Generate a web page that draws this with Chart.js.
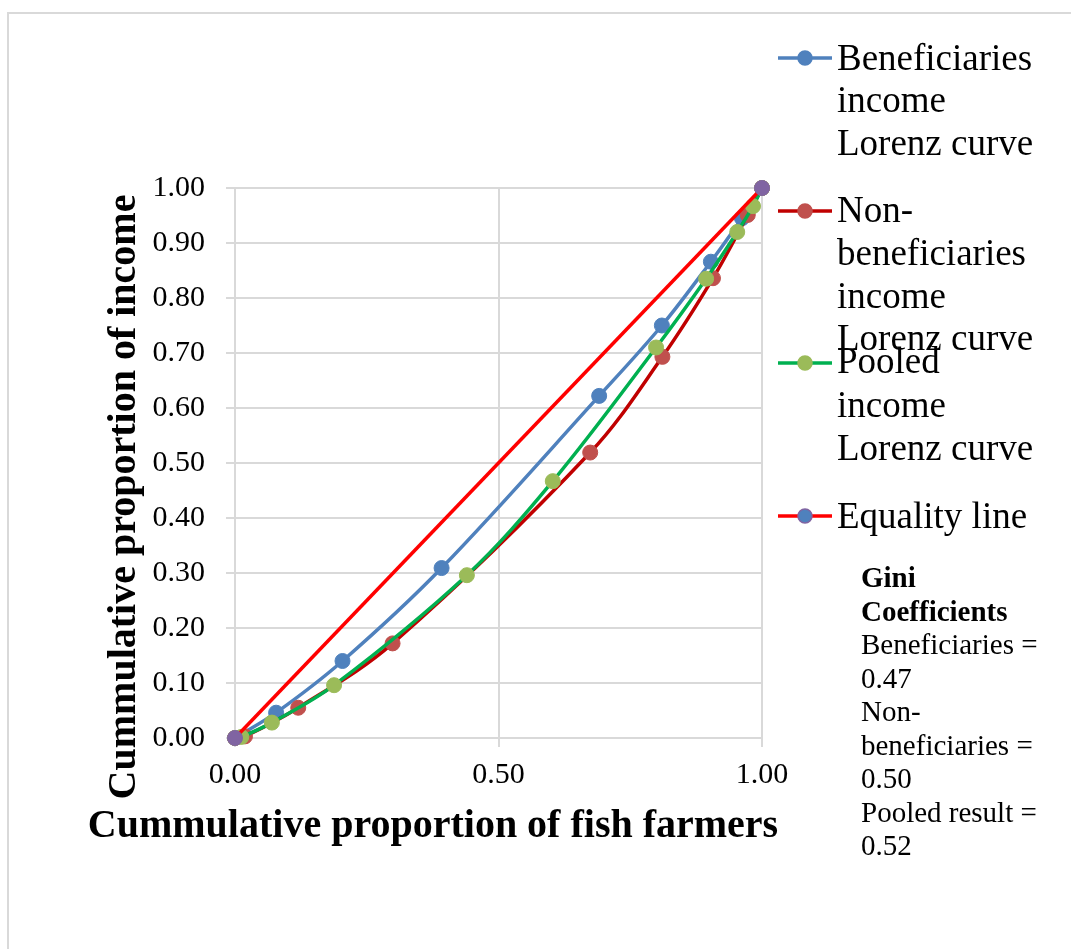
<!DOCTYPE html>
<html>
<head>
<meta charset="utf-8">
<script src="https://cdn.jsdelivr.net/npm/chart.js@4/dist/chart.umd.min.js"></script>
<style>
  html, body { margin: 0; padding: 0; background: #fff; }
  #wrap { position: relative; width: 1071px; height: 949px; overflow: hidden; }
  #frame { position: absolute; left: 7px; top: 12px; width: 1100px; height: 1000px;
           border-left: 2px solid #D9D9D9; border-top: 2px solid #D9D9D9; box-sizing: border-box; }
  canvas { position: absolute; left: 0; top: 0; }
</style>
</head>
<body>
<div id="wrap">
  <div id="frame"></div>
  <canvas id="c" width="1071" height="949"></canvas>
</div>
<script>
// ---- Data ----
const benX  = [0, 0.078, 0.204, 0.392, 0.691, 0.810, 0.903, 0.962, 1.000];
const benY  = [0, 0.046, 0.140, 0.309, 0.622, 0.750, 0.866, 0.945, 1.000];

const nonX  = [0, 0.019, 0.120, 0.299, 0.674, 0.811, 0.907, 0.973, 1.000];
const nonY  = [0, 0.003, 0.055, 0.172, 0.519, 0.693, 0.836, 0.951, 1.000];

const poolX = [0, 0.012, 0.070, 0.188, 0.440, 0.603, 0.799, 0.894, 0.953, 0.983, 1.000];
const poolY = [0, 0.002, 0.028, 0.096, 0.296, 0.467, 0.710, 0.835, 0.920, 0.967, 1.000];

const eqX   = [0, 1];
const eqY   = [0, 1];

const seriesNames = [
  ["Beneficiaries", "income", "Lorenz curve"],
  ["Non-", "beneficiaries", "income", "Lorenz curve"],
  ["Pooled", "income", "Lorenz curve"],
  ["Equality line"]
];
const xTitle = "Cummulative proportion of fish farmers";
const yTitle = "Cummulative proportion of income";
const giniLines = [
  { t: "Gini", bold: true },
  { t: "Coefficients", bold: true },
  { t: "Beneficiaries =", bold: false },
  { t: "0.47", bold: false },
  { t: "Non-", bold: false },
  { t: "beneficiaries =", bold: false },
  { t: "0.50", bold: false },
  { t: "Pooled result =", bold: false },
  { t: "0.52", bold: false }
];

function pts(xs, ys) { return xs.map((x, i) => ({ x: x, y: ys[i] })); }

const FONT = "'Liberation Serif', 'Times New Roman', serif";

const lineCols   = ["#4F81BD", "#C00000", "#00B050", "#FF0000"];
const markerCols = ["#4F81BD", "#C0504D", "#9BBB59", "#8064A2"];

function ds(label, xs, ys, i, order) {
  return {
    label: label,
    data: pts(xs, ys),
    borderColor: lineCols[i],
    backgroundColor: markerCols[i],
    pointBackgroundColor: markerCols[i],
    pointBorderColor: markerCols[i],
    pointBorderWidth: 1,
    pointRadius: 7.5,
    borderWidth: 3.5,
    tension: 0.35,
    showLine: true,
    clip: false,
    order: order
  };
}

const overlay = {
  id: 'overlay',
  afterDraw(chart) {
    const ctx = chart.ctx;
    ctx.save();
    ctx.fillStyle = '#000';
    // X axis title
    ctx.font = "bold 40px " + FONT;
    ctx.textAlign = 'center';
    ctx.textBaseline = 'alphabetic';
    ctx.fillText(xTitle, 433, 837);
    // Y axis title
    ctx.save();
    ctx.translate(135, 497);
    ctx.rotate(-Math.PI / 2);
    ctx.fillText(yTitle, 0, 0);
    ctx.restore();

    // Legend
    const symY = [58, 211, 363, 516];
    const textBase = [[70, 112, 155], [222, 265, 308, 350], [373, 417, 460], [528]];
    ctx.font = "37px " + FONT;
    ctx.textAlign = 'left';
    for (let i = 0; i < 4; i++) {
      ctx.strokeStyle = lineCols[i];
      ctx.lineWidth = 3.5;
      ctx.beginPath();
      ctx.moveTo(778, symY[i]);
      ctx.lineTo(832, symY[i]);
      ctx.stroke();
      ctx.beginPath();
      ctx.arc(805, symY[i], 7, 0, Math.PI * 2);
      ctx.fillStyle = (i === 3) ? "#4F81BD" : markerCols[i];
      ctx.fill();
      ctx.lineWidth = 1.5;
      ctx.strokeStyle = markerCols[i];
      ctx.stroke();
      ctx.fillStyle = '#000';
      seriesNames[i].forEach((t, j) => ctx.fillText(t, 837, textBase[i][j]));
    }

    // Gini text box
    giniLines.forEach((l, k) => {
      ctx.font = (l.bold ? "bold " : "") + "29px " + FONT;
      ctx.fillText(l.t, 861, 587 + k * 33.5);
    });
    ctx.restore();
  }
};

new Chart(document.getElementById('c'), {
  type: 'scatter',
  data: {
    datasets: [
      ds(seriesNames[0].join(' '), benX, benY, 0, 4),
      ds(seriesNames[1].join(' '), nonX, nonY, 1, 3),
      ds(seriesNames[2].join(' '), poolX, poolY, 2, 2),
      ds(seriesNames[3].join(' '), eqX, eqY, 3, 1)
    ]
  },
  options: {
    responsive: false,
    animation: false,
    layout: { padding: { left: 100, right: 309, top: 188, bottom: 151 } },
    plugins: { legend: { display: false }, tooltip: { enabled: false }, title: { display: false } },
    scales: {
      x: {
        type: 'linear', min: 0, max: 1,
        afterFit(s) { s.height = 60; },
        ticks: { stepSize: 0.5, padding: 10, color: '#000',
                 font: { family: FONT, size: 30 },
                 callback: v => v.toFixed(2), maxRotation: 0 },
        grid: { color: '#D9D9D9', lineWidth: 2, tickLength: 9 },
        border: { color: '#D9D9D9', width: 2 }
      },
      y: {
        type: 'linear', min: 0, max: 1,
        afterFit(s) { s.width = 135; },
        ticks: { stepSize: 0.1, padding: 21, color: '#000',
                 font: { family: FONT, size: 30 },
                 callback: v => v.toFixed(2) },
        grid: { color: '#D9D9D9', lineWidth: 2, tickLength: 9 },
        border: { color: '#D9D9D9', width: 2 }
      }
    }
  },
  plugins: [overlay]
});
</script>
</body>
</html>
